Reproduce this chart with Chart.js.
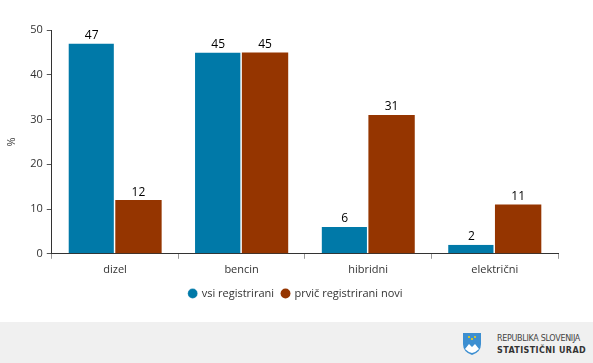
<!DOCTYPE html>
<html>
<head>
<meta charset="utf-8">
<script src="https://cdn.jsdelivr.net/npm/chart.js@4"></script>
<style>
  html, body { margin: 0; padding: 0; background: #fff; }
  #wrap { position: relative; width: 593px; height: 322px; }
  #footer { position: relative; width: 593px; height: 41px; background: #f0f0f0; }
  #logo { position: absolute; left: 462px; top: 10px; }
  #logoText { position: absolute; left: 497px; top: 11px; font-family: "DejaVu Sans", sans-serif; color: #444; line-height: 12px; white-space: nowrap; }
  #logoText .a { font-size: 8px; letter-spacing: -0.3px; }
  #logoText .b { font-size: 8px; font-weight: bold; letter-spacing: 0.4px; color: #333; }
</style>
</head>
<body>
<div id="wrap"><canvas id="chart" width="593" height="322"></canvas></div>
<div id="footer">
  <svg id="logo" width="20" height="24" viewBox="0 0 20 24">
    <path d="M1 1 H19 V12 Q19 20 10 23 Q1 20 1 12 Z" fill="#3d8fd1"/>
    <path d="M3 17 L7 12 L10 15 L13 12 L17 17 Q14 20 10 21 Q6 20 3 17 Z" fill="#fff"/>
    <circle cx="7" cy="5" r="1" fill="#ffd400"/><circle cx="13" cy="5" r="1" fill="#ffd400"/><circle cx="10" cy="7" r="1" fill="#ffd400"/>
  </svg>
  <div id="logoText"><div class="a">REPUBLIKA SLOVENIJA</div><div class="b">STATISTIČNI URAD</div></div>
</div>
<script>
// categories and series values
const categories = ['dizel', 'bencin', 'hibridni', 'električni'];
const vsiRegistrirani = [47, 45, 6, 2];
const prvicRegistrirani = [12, 45, 31, 11];
const seriesNames = ['vsi registrirani', 'prvič registrirani novi'];

const FONT = '"Open Sans", sans-serif';

// Draws the value above each bar
const valueLabels = {
  id: 'valueLabels',
  afterDatasetsDraw(chart) {
    const ctx = chart.ctx;
    ctx.save();
    ctx.font = '12px ' + FONT;
    ctx.fillStyle = '#000';
    ctx.textAlign = 'center';
    ctx.textBaseline = 'bottom';
    chart.data.datasets.forEach((ds, i) => {
      chart.getDatasetMeta(i).data.forEach((bar, j) => {
        ctx.fillText(ds.data[j], bar.x, bar.y - 2);
      });
    });
    ctx.restore();
  }
};

// Center the legend under the plot area instead of the whole box
const legendShift = {
  id: 'legendShift',
  afterLayout(chart) {
    const l = chart.legend;
    const mid = (chart.chartArea.left + chart.chartArea.right) / 2 - 9;
    const d = mid - (l.left + l.right) / 2;
    l.left += d;
    l.right += d;
  }
};

new Chart(document.getElementById('chart'), {
  type: 'bar',
  data: {
    labels: categories,
    datasets: [{
      label: seriesNames[0],
      data: vsiRegistrirani,
      backgroundColor: '#0079a8',
      borderColor: '#fff',
      borderWidth: { left: 0, right: 1, top: 0, bottom: 0 },
      borderSkipped: false
    }, {
      label: seriesNames[1],
      data: prvicRegistrirani,
      backgroundColor: '#953500',
      borderColor: '#fff',
      borderWidth: { left: 0, right: 0, top: 0, bottom: 0 }
    }]
  },
  options: {
    responsive: false,
    animation: false,
    layout: { padding: { top: 30, right: 35, left: 5, bottom: 13 } },
    categoryPercentage: 0.74,
    barPercentage: 0.99,
    plugins: {
      tooltip: { enabled: false },
      legend: {
        position: 'bottom',
        labels: {
          usePointStyle: true,
          pointStyle: 'circle',
          boxWidth: 7,
          boxHeight: 7,
          padding: 8,
          color: '#333',
          font: { family: FONT, size: 11 }
        }
      }
    },
    scales: {
      y: {
        min: 0,
        max: 50,
        ticks: { stepSize: 10, color: '#333', font: { family: FONT, size: 11 }, padding: 4 },
        grid: { drawOnChartArea: false, drawTicks: true, tickLength: 5, color: '#555' },
        border: { color: '#333' },
        title: { display: true, text: '%', color: '#333', font: { family: FONT, size: 11 }, padding: { top: 0, bottom: 8 } }
      },
      x: {
        ticks: { color: '#333', font: { family: FONT, size: 11 }, padding: 4 },
        grid: { drawOnChartArea: false, drawTicks: true, tickLength: 5, color: '#999', offset: true },
        border: { color: '#333' }
      }
    }
  },
  plugins: [valueLabels, legendShift]
});
</script>
</body>
</html>
